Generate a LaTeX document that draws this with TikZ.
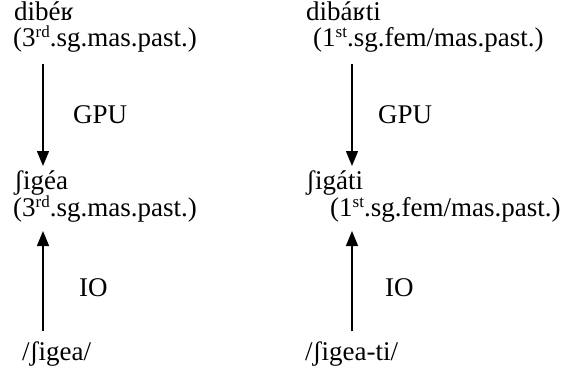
\documentclass[tikz,border=0pt]{standalone}
\usepackage{fontspec}
\setmainfont{Liberation Serif}
\usetikzlibrary{arrows.meta}
\newcommand{\supx}[1]{\raisebox{0.33em}{\fontsize{17}{17}\selectfont #1}}
\begin{document}
\begin{tikzpicture}[
    x=1pt, y=-1pt,
    font=\fontsize{27}{25}\selectfont,
    form/.style={anchor=base west, inner sep=0pt},
    rule/.style={-{Triangle[length=15pt,width=12pt]}, line width=1.5pt},
  ]
  \useasboundingbox (0,0) rectangle (573,372);

  % ---- left column: 3rd sg ----
  \node[form] (surfL)  at (14,20)  {dibéʁ};
  \node[form] (glsL)   at (13,46)  {(3\supx{rd}.sg.mas.past.)};
  \node[form] (midL)   at (14,189) {ʃigéa};
  \node[form] (glsLb)  at (13,216) {(3\supx{rd}.sg.mas.past.)};
  \node[form] (undL)   at (22,360) {/ʃigea/};
  \coordinate (gpuLa) at (43,64);
  \coordinate (gpuLb) at (43,166);
  \coordinate (ioLa)  at (43,331);
  \coordinate (ioLb)  at (43,231);
  \draw[rule] (gpuLa) -- (gpuLb);
  \draw[rule] (ioLa) -- (ioLb);
  \node[form] (gpuL) at (73,123) {GPU};
  \node[form] (ioL)  at (79,296) {IO};

  % ---- right column: 1st sg ----
  \node[form] (surfR)  at (306,20)  {dibáʁti};
  \node[form] (glsR)   at (313,46)  {(1\supx{st}.sg.fem/mas.past.)};
  \node[form] (midR)   at (306,189) {ʃigáti};
  \node[form] (glsRb)  at (330,216) {(1\supx{st}.sg.fem/mas.past.)};
  \node[form] (undR)   at (305,360) {/ʃigea-ti/};
  \coordinate (gpuRa) at (352,64);
  \coordinate (gpuRb) at (352,166);
  \coordinate (ioRa)  at (352,331);
  \coordinate (ioRb)  at (352,231);
  \draw[rule] (gpuRa) -- (gpuRb);
  \draw[rule] (ioRa) -- (ioRb);
  \node[form] (gpuR) at (378,123) {GPU};
  \node[form] (ioR)  at (385,296) {IO};
\end{tikzpicture}
\end{document}
